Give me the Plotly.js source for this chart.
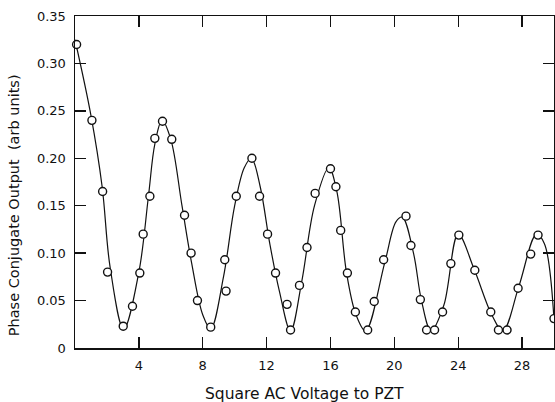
<!DOCTYPE html>
<html>
<head>
<meta charset="utf-8">
<script src="https://cdn.plot.ly/plotly-3.0.1.min.js"></script>
<style>html,body{margin:0;padding:0;background:#fff;}#chart{width:555px;height:402px;}</style>
</head>
<body>
<div id="chart"></div>
<script>
// Measured data points (open circles)
const pointX = [0.1, 1.06, 1.73, 2.04, 3.02, 3.6, 4.06, 4.27, 4.69, 5.0, 5.48, 6.06, 6.86, 7.27, 7.67, 8.5,
  9.46, 9.38, 10.1, 11.08, 11.56, 12.06, 12.56, 13.28, 13.5, 14.06, 14.53, 15.04, 16.0, 16.34, 16.64, 17.06,
  17.56, 18.33, 18.74, 19.33, 20.73, 21.04, 21.63, 22.02, 22.52, 23.02, 23.54, 24.04, 25.04, 26.04, 26.52,
  27.06, 27.75, 28.54, 29.0, 30.0];
const pointY = [0.32, 0.24, 0.165, 0.08, 0.023, 0.044, 0.079, 0.12, 0.16, 0.221, 0.239, 0.22, 0.14, 0.10, 0.05, 0.022,
  0.06, 0.093, 0.16, 0.20, 0.16, 0.12, 0.079, 0.046, 0.019, 0.066, 0.106, 0.163, 0.189, 0.17, 0.124, 0.079,
  0.038, 0.019, 0.049, 0.093, 0.139, 0.108, 0.051, 0.019, 0.019, 0.038, 0.089, 0.119, 0.082, 0.038, 0.019,
  0.019, 0.063, 0.099, 0.119, 0.031];

// Hand-drawn guide curve
const curveX = [0, 1.0, 1.7, 2.2, 3.05, 4.0, 4.6, 5.0, 5.45, 6.0, 6.7, 7.3, 8.0, 8.5, 9.3, 10.0, 10.6, 11.05,
  11.6, 12.2, 12.8, 13.5, 14.2, 15.0, 15.9, 16.4, 17.0, 17.6, 18.2, 19.4, 20.1, 20.5, 21.2, 21.7, 22.3,
  23.1, 24.0, 25.0, 26.1, 26.8, 27.8, 28.9, 29.4, 30.0];
const curveY = [0.325, 0.245, 0.17, 0.085, 0.02, 0.08, 0.16, 0.215, 0.24, 0.22, 0.15, 0.09, 0.035, 0.02, 0.075, 0.15, 0.19, 0.20,
  0.17, 0.11, 0.06, 0.018, 0.07, 0.15, 0.19, 0.165, 0.08, 0.035, 0.018, 0.09, 0.133, 0.138, 0.10, 0.05, 0.018,
  0.045, 0.12, 0.083, 0.035, 0.018, 0.065, 0.12, 0.11, 0.03];

const xTicks = [4, 8, 12, 16, 20, 24, 28];
const yTicks = [0, 0.05, 0.10, 0.15, 0.20, 0.25, 0.30, 0.35];
const yTickText = ['0', '0.05', '0.10', '0.15', '0.20', '0.25', '0.30', '0.35'];
const xTitle = 'Square AC Voltage to PZT';
const yTitle = 'Phase Conjugate Output  (arb units)';

const fontFam = 'DejaVu Sans, sans-serif';

const traces = [
  {x: curveX, y: curveY, mode: 'lines', type: 'scatter',
   line: {color: '#111', width: 1.2, shape: 'spline', smoothing: 1.0}, hoverinfo: 'skip'},
  {x: pointX, y: pointY, mode: 'markers', type: 'scatter', cliponaxis: false,
   marker: {symbol: 'circle', size: 8, color: '#fff', line: {color: '#111', width: 1.4}}}
];

const axisCommon = {
  showline: true, linecolor: '#111', linewidth: 1.5, mirror: 'ticks',
  ticks: 'inside', ticklen: 11, tickwidth: 1.3, tickcolor: '#111',
  showgrid: false, zeroline: false, ticklabelstandoff: 5,
  tickfont: {family: fontFam, size: 13, color: '#111'}
};

const layout = {
  width: 555, height: 402,
  margin: {l: 75, r: 1, t: 16, b: 54},
  paper_bgcolor: '#fff', plot_bgcolor: '#fff',
  showlegend: false,
  xaxis: Object.assign({}, axisCommon, {
    range: [0, 30], tickmode: 'array', tickvals: xTicks, ticktext: xTicks.map(String)
  }),
  yaxis: Object.assign({}, axisCommon, {
    range: [0, 0.35], tickmode: 'array', tickvals: yTicks, ticktext: yTickText
  }),
  annotations: [
    {text: xTitle, xref: 'paper', yref: 'paper', x: 0.48, y: 0, yshift: -46, xanchor: 'center', yanchor: 'middle',
     showarrow: false, font: {family: fontFam, size: 15.5, color: '#111'}},
    {text: yTitle, xref: 'paper', yref: 'paper', x: 0, xshift: -61, y: 0.43, xanchor: 'center', yanchor: 'middle',
     textangle: -90, showarrow: false, font: {family: fontFam, size: 14.5, color: '#111'}}
  ]
};

Plotly.newPlot('chart', traces, layout, {displayModeBar: false, staticPlot: true});
</script>
</body>
</html>
